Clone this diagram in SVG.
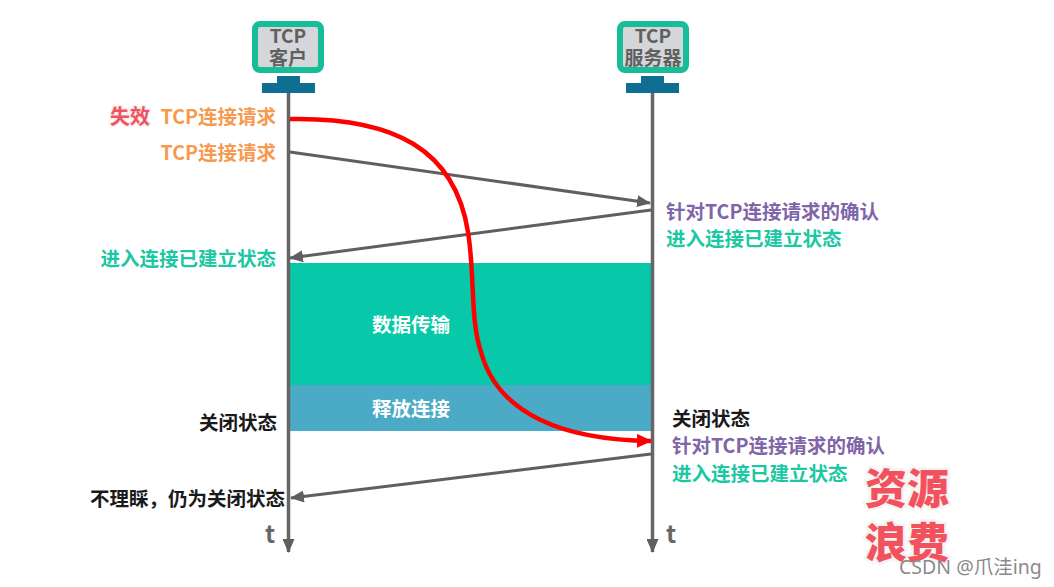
<svg xmlns="http://www.w3.org/2000/svg" width="1054" height="587" viewBox="0 0 1054 587">
<style>
text{font-family:"Noto Sans CJK SC","Noto Sans",sans-serif;font-weight:700;font-size:19.5px}
.r{text-anchor:end}
.o{fill:#f59a50}.g{fill:#1cc7a3}.p{fill:#8065a8}.k{fill:#1a1a1a}.w{fill:#fff}
.ax{stroke:#666;stroke-width:3.5;fill:none}
.ar{stroke:#5f5f5f;stroke-width:3;fill:none}
.mon{fill:#d4d6da;stroke:#17bd98;stroke-width:6}
.st{fill:#0f6f92}
.mt{fill:#606060;text-anchor:middle;font-size:19px;font-weight:700}
.big{fill:#f2525d;stroke:#f4f4f4;stroke-width:5;paint-order:stroke;font-size:42px;font-weight:900}
</style>
<defs>
<marker id="ah" markerUnits="userSpaceOnUse" markerWidth="14" markerHeight="12" refX="13" refY="6" orient="auto"><path d="M0 0L14 6L0 12Z" fill="#5f5f5f"/></marker>
<marker id="ar" markerUnits="userSpaceOnUse" markerWidth="15" markerHeight="14" refX="14" refY="7" orient="auto"><path d="M0 0L15 7L0 14Z" fill="#f00"/></marker>
</defs>
<rect width="1054" height="587" fill="#fff"/>
<g id="bands">
<rect x="290" y="263" width="361" height="122" fill="#07c9a9"/>
<rect x="290" y="385" width="361" height="46" fill="#4babc6"/>
<text class="w" x="411" y="332" text-anchor="middle">数据传输</text>
<text class="w" x="411" y="416" text-anchor="middle">释放连接</text>
</g>
<g id="client">
<rect class="st" x="277" y="76" width="23" height="10"/><rect class="st" x="262" y="83" width="53" height="10"/>
<rect class="mon" x="255" y="24" width="66" height="46" rx="5"/>
<text class="mt"><tspan x="288" y="43">TCP</tspan><tspan x="288" y="65">客户</tspan></text>
</g>
<g id="server">
<rect class="st" x="641" y="76" width="23" height="10"/><rect class="st" x="626" y="83" width="53" height="10"/>
<rect class="mon" x="620" y="24" width="66" height="46" rx="5"/>
<text class="mt"><tspan x="653" y="43">TCP</tspan><tspan x="653" y="65">服务器</tspan></text>
</g>
<g id="connectors">
<path class="ax" d="M288.5 93V552" marker-end="url(#ah)"/>
<path class="ax" d="M652.5 93V552" marker-end="url(#ah)"/>
<path class="ar" d="M290 152L650 203" marker-end="url(#ah)"/>
<path class="ar" d="M651 210L290 258" marker-end="url(#ah)"/>
<path class="ar" d="M651 454L291 498" marker-end="url(#ah)"/>
<path d="M290 119C395 117 455 150 468 232C475 275 470 320 481 352C498 415 565 440 651 441" fill="none" stroke="#f00" stroke-width="4.5" marker-end="url(#ar)"/>
</g>
<g id="labels">
<text x="110" y="124" style="fill:#f2525d;stroke:#f0f0f0;stroke-width:3;paint-order:stroke;font-size:20px">失效</text>
<text class="o r" x="276" y="124">TCP连接请求</text>
<text class="o r" x="276" y="160">TCP连接请求</text>
<text class="g r" x="276" y="266">进入连接已建立状态</text>
<text class="k r" x="277" y="430">关闭状态</text>
<text class="k r" x="285" y="506">不理睬，仍为关闭状态</text>
<text x="265" y="543" style="fill:#666;font-size:24px">t</text>
<text x="666" y="543" style="fill:#666;font-size:24px">t</text>
<text class="p" x="666" y="219">针对TCP连接请求的确认</text>
<text class="g" x="666" y="246">进入连接已建立状态</text>
<text class="k" x="672" y="426">关闭状态</text>
<text class="p" x="672" y="453">针对TCP连接请求的确认</text>
<text class="g" x="672" y="481">进入连接已建立状态</text>
<text class="big"><tspan x="865" y="504">资源</tspan><tspan x="865" y="558">浪费</tspan></text>
<text x="899" y="574" style="fill:#8a8a8a;font-size:19.5px;font-weight:400;font-family:'Noto Sans','Noto Sans CJK SC',sans-serif">CSDN @爪洼ing</text>
</g>
</svg>
